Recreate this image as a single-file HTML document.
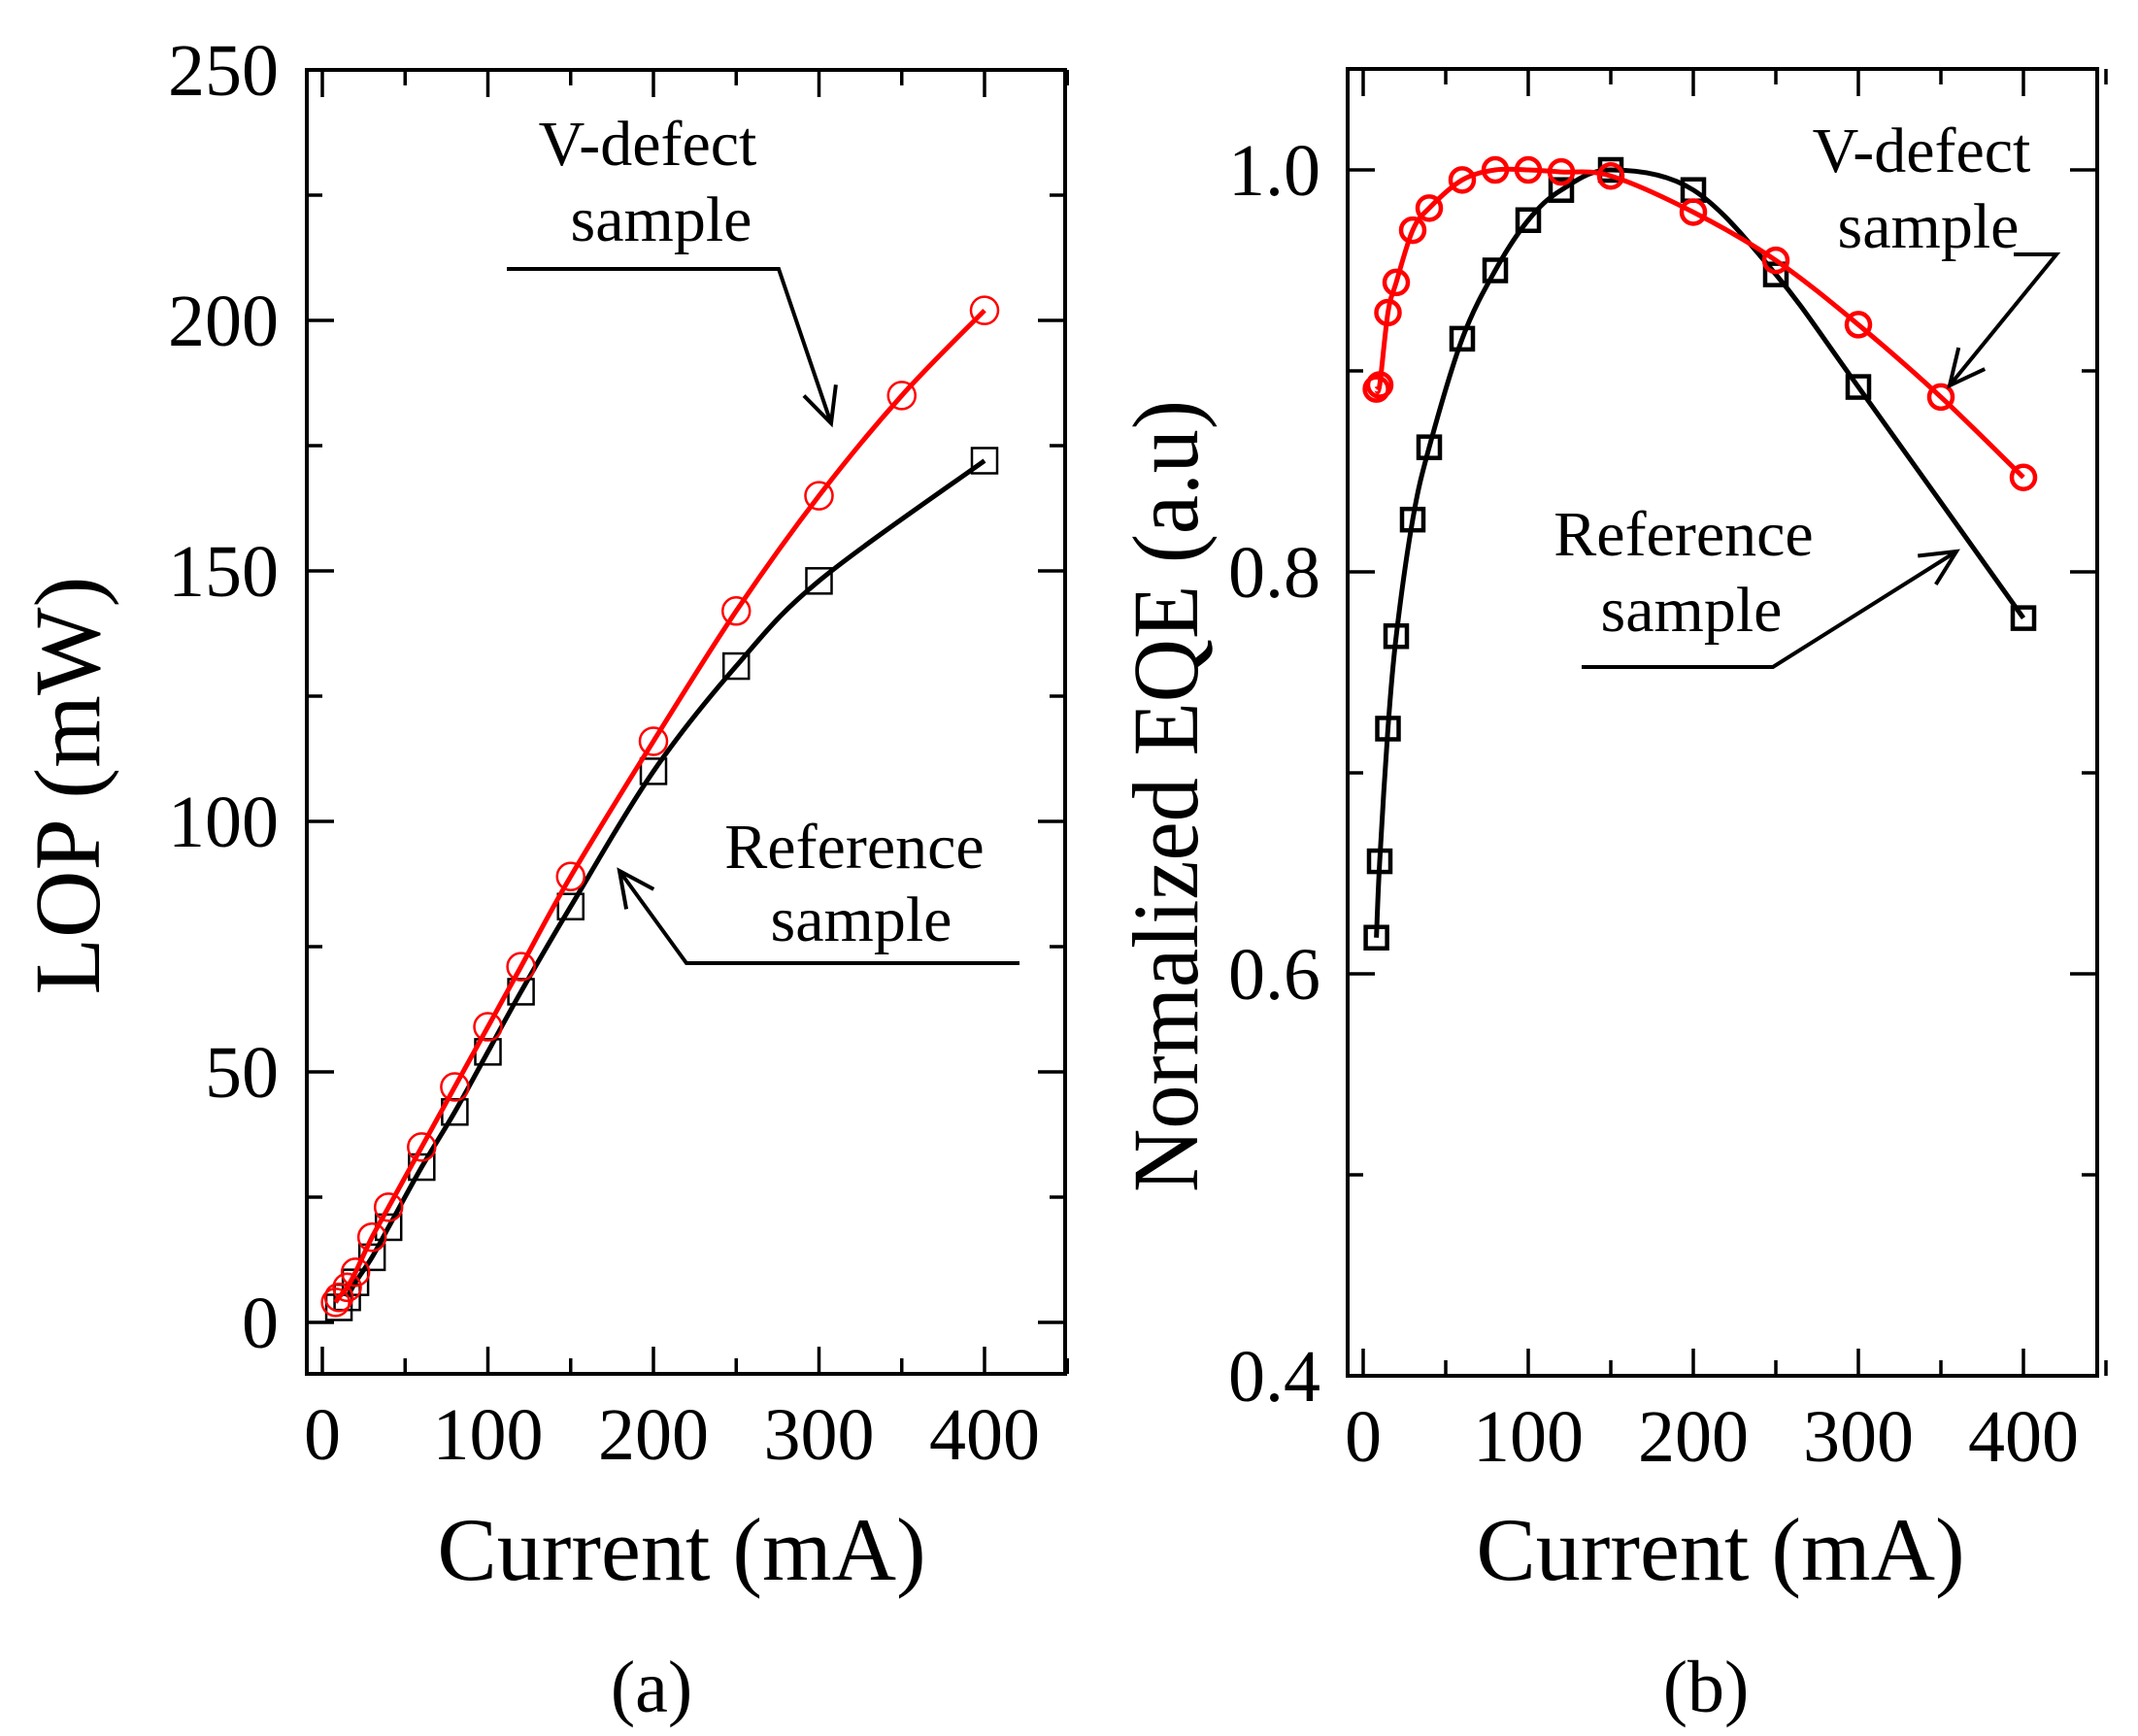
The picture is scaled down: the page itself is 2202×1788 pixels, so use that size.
<!DOCTYPE html>
<html><head><meta charset="utf-8"><style>
html,body{margin:0;padding:0;background:#fff;}
svg{display:block;font-family:"Liberation Serif",serif;}
</style></head><body>
<svg id="c" width="2202" height="1788" viewBox="0 0 2202 1788" xmlns="http://www.w3.org/2000/svg"></svg>
<script>
const NS='http://www.w3.org/2000/svg';
// Panel (a) data
const aRefX=[10,15,20,30,40,60,80,100,120,150,200,250,300,400];
const aRefY=[3,5,8,13,19,31,42,54,66,83,110,131,148,172];
const aVX=[8,10,15,20,30,40,60,80,100,120,150,200,250,300,350,400];
const aVY=[4,5,7,10,17,23,35,47,59,71,89,116,142,165,185,202];
const aYTicks=[0,50,100,150,200,250];
const aXTicks=[0,100,200,300,400];
// Panel (b) data
const bRefX=[8,10,15,20,30,40,60,80,100,120,150,200,250,300,400];
const bRefY=[0.618,0.656,0.722,0.768,0.826,0.862,0.916,0.950,0.975,0.990,1.0,0.990,0.948,0.892,0.777];
const bVX=[8,10,15,20,30,40,60,80,100,120,150,200,250,300,350,400];
const bVY=[0.891,0.893,0.929,0.944,0.970,0.981,0.995,1.0,1.0,0.999,0.997,0.979,0.955,0.923,0.887,0.847];
const bYTicks=['0.4','0.6','0.8','1.0'];
const bXTicks=[0,100,200,300,400];

const svg=document.getElementById('c');
function el(tag,attrs,parent){const e=document.createElementNS(NS,tag);for(const k in attrs)e.setAttribute(k,attrs[k]);(parent||svg).appendChild(e);return e;}
function txt(s,attrs,parent){const e=el('text',attrs,parent);e.textContent=s;return e;}
function smooth(pts){let d='M'+pts[0][0]+','+pts[0][1];for(let i=0;i<pts.length-1;i++){const p0=pts[Math.max(0,i-1)],p1=pts[i],p2=pts[i+1],p3=pts[Math.min(pts.length-1,i+2)];const c1=[p1[0]+(p2[0]-p0[0])/6,p1[1]+(p2[1]-p0[1])/6],c2=[p2[0]-(p3[0]-p1[0])/6,p2[1]-(p3[1]-p1[1])/6];d+=' C'+c1[0]+','+c1[1]+' '+c2[0]+','+c2[1]+' '+p2[0]+','+p2[1];}return d;}
function arrow(g,pts,name){const p=el('polyline',{points:pts.map(q=>q.join(',')).join(' '),fill:'none',stroke:'#000','stroke-width':4},g);

const a=pts[pts.length-2],b=pts[pts.length-1];const ang=Math.atan2(b[1]-a[1],b[0]-a[0]);const L=40,w=0.45;
const h=el('polyline',{points:[[b[0]-L*Math.cos(ang-w),b[1]-L*Math.sin(ang-w)],b,[b[0]-L*Math.cos(ang+w),b[1]-L*Math.sin(ang+w)]].map(q=>q.join(',')).join(' '),fill:'none',stroke:'#000','stroke-width':4},g);
}

function panel(cfg){
 const g=el('g',{});
 const {L,R,T,B,xs,ys}=cfg;
 for(let v=0;v<=cfg.xMax;v+=50){const x=xs(v);const len=v%100===0?28:16;
  el('line',{x1:x,y1:B,x2:x,y2:B-len,stroke:'#000','stroke-width':3.5},g);el('line',{x1:x,y1:T,x2:x,y2:T+len,stroke:'#000','stroke-width':3.5},g);}
 cfg.yMinor.forEach((v,i)=>{const y=ys(v);const len=cfg.yMajorTest(i)?28:16;
  el('line',{x1:L,y1:y,x2:L+len,y2:y,stroke:'#000','stroke-width':3.5},g);el('line',{x1:R,y1:y,x2:R-len,y2:y,stroke:'#000','stroke-width':3.5},g);});
 const box=el('rect',{x:L,y:T,width:R-L,height:B-T,fill:'none',stroke:'#000','stroke-width':4},g);
 
 cfg.xTicks.forEach(v=>{const t=txt(String(v),{x:xs(v),y:B+88,'font-size':76,'text-anchor':'middle'},g);});
 cfg.yTicks.forEach(v=>{const t=txt(String(v),{x:cfg.yLabX,y:ys(+v)+26,'font-size':76,'text-anchor':'end'},g);});
 const refPts=cfg.refX.map((v,i)=>[xs(v),ys(cfg.refY[i])]);
 const vPts=cfg.vX.map((v,i)=>[xs(v),ys(cfg.vY[i])]);
 const lr=el('path',{d:smooth(refPts.slice(cfg.refLineStart)),fill:'none',stroke:'#000','stroke-width':5},g);
 
 refPts.forEach(p=>{const s=cfg.sq;const r=el('rect',{x:p[0]-s/2,y:p[1]-s/2,width:s,height:s,fill:'none',stroke:'#000','stroke-width':cfg.mw},g);
  });
 const lv=el('path',{d:smooth(vPts),fill:'none',stroke:'#f00','stroke-width':5},g);
 
 vPts.forEach(p=>{const c=el('circle',{cx:p[0],cy:p[1],r:cfg.cr,fill:'none',stroke:'#f00','stroke-width':cfg.mw},g);
  });
 return g;
}
const gA=panel({name:'panel-a',L:316,R:1097,T:72,B:1415,xMax:450,xs:v=>332+1.705*v,ys:v=>1362-5.16*v,
 yMinor:[0,25,50,75,100,125,150,175,200,225,250],yMajorTest:i=>i%2===0,xTicks:aXTicks,yTicks:aYTicks,yLabX:287,
 refX:aRefX,refY:aRefY,vX:aVX,vY:aVY,refLineStart:1,sq:26,cr:14,mw:2.5});
const gB=panel({name:'panel-b',L:1388,R:2160,T:71,B:1417,xMax:450,xs:v=>1404+1.70*v,ys:v=>1417-(v-0.4)*2070,
 yMinor:[0.4,0.5,0.6,0.7,0.8,0.9,1.0],yMajorTest:i=>i%2===0,xTicks:bXTicks,yTicks:bYTicks,yLabX:1360,
 refX:bRefX,refY:bRefY,vX:bVX,vY:bVY,refLineStart:0,sq:22,cr:12,mw:4.5});

function label(s,a,name){const t=txt(s,a);return t;}
label('Current (mA)',{x:702,y:1627,'font-size':92,'text-anchor':'middle'},'x-axis-title-a');
label('Current (mA)',{x:1772,y:1627,'font-size':92,'text-anchor':'middle'},'x-axis-title-b');
label('(a)',{x:671,y:1763,'font-size':76,'text-anchor':'middle'},'panel-label-a');
label('(b)',{x:1757,y:1763,'font-size':76,'text-anchor':'middle'},'panel-label-b');
label('LOP (mW)',{x:0,y:0,'font-size':96,'text-anchor':'middle',transform:'translate(102,809) rotate(-90)'},'y-axis-title-a');
label('Normalized EQE (a.u)',{x:0,y:0,'font-size':96,'text-anchor':'middle',textLength:816,lengthAdjust:'spacingAndGlyphs',transform:'translate(1233,820) rotate(-90)'},'y-axis-title-b');
label('V-defect',{x:667,y:170,'font-size':66,'text-anchor':'middle'},'annotation-v-defect-a');
label('sample',{x:681,y:248,'font-size':66,'text-anchor':'middle'},'annotation-v-defect-a-2');
arrow(svg,[[522,277],[802,277],[856,436]],'arrow-v-defect-a');
label('Reference',{x:880,y:894,'font-size':66,'text-anchor':'middle'},'annotation-reference-a');
label('sample',{x:887,y:969,'font-size':66,'text-anchor':'middle'},'annotation-reference-a-2');
arrow(svg,[[1050,992],[707,992],[638,897]],'arrow-reference-a');
label('V-defect',{x:1979,y:177,'font-size':66,'text-anchor':'middle'},'annotation-v-defect-b');
label('sample',{x:1986,y:255,'font-size':66,'text-anchor':'middle'},'annotation-v-defect-b-2');
arrow(svg,[[2074,262],[2118,262],[2008,397]],'arrow-v-defect-b');
label('Reference',{x:1734,y:572,'font-size':66,'text-anchor':'middle'},'annotation-reference-b');
label('sample',{x:1742,y:650,'font-size':66,'text-anchor':'middle'},'annotation-reference-b-2');
arrow(svg,[[1629,687],[1826,687],[2015,568]],'arrow-reference-b');
</script>
</body></html>
